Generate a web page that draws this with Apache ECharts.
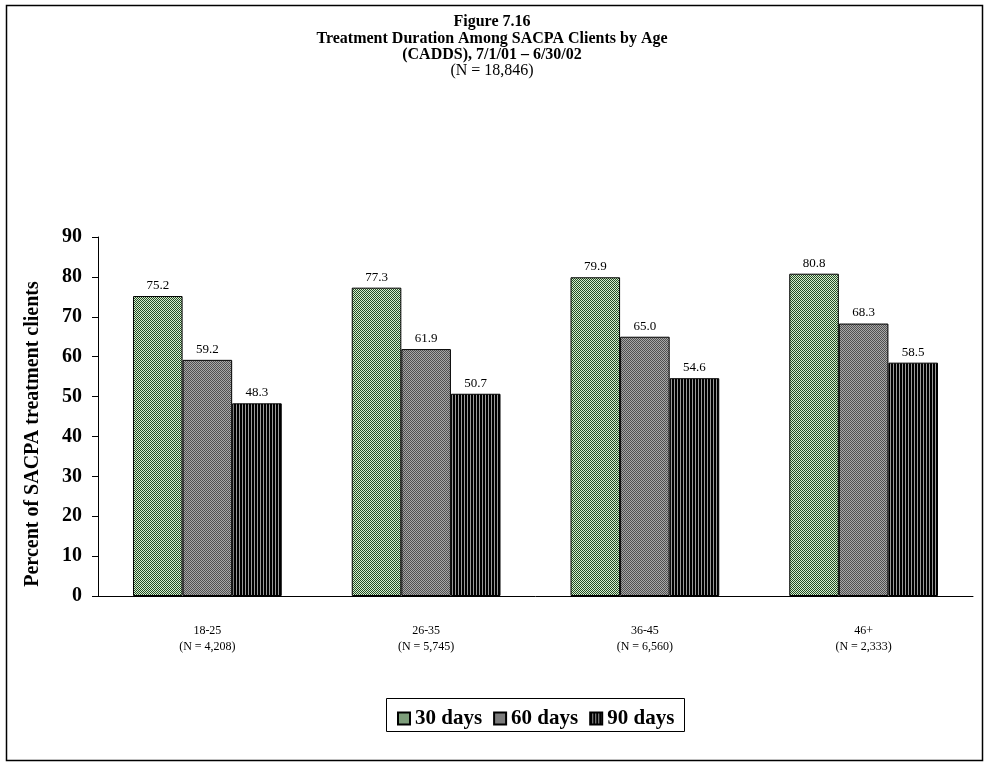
<!DOCTYPE html>
<html><head><meta charset="utf-8">
<script src="https://cdn.jsdelivr.net/npm/echarts@6/dist/echarts.min.js"></script>
<style>html,body{margin:0;padding:0;background:#fff}#c{width:989px;height:766px}</style>
</head><body><div id="c"></div>
<script>
const categories = ['18-25\n(N = 4,208)', '26-35\n(N = 5,745)', '36-45\n(N = 6,560)', '46+\n(N = 2,333)'];
const seriesNames = ['30 days', '60 days', '90 days'];
const days30 = [75.2, 77.3, 79.9, 80.8];
const days60 = [59.2, 61.9, 65.0, 68.3];
const days90 = [48.3, 50.7, 54.6, 58.5];
const yTicks = [0, 10, 20, 30, 40, 50, 60, 70, 80, 90];

function pattern(kind) {
  const c = document.createElement('canvas');
  c.width = 4; c.height = 4;
  const g = c.getContext('2d');
  if (kind === 0) {
    g.fillStyle = '#d6f0cf'; g.fillRect(0,0,4,4);
    g.fillStyle = '#254a25';
    for (let y=0;y<4;y++) for (let x=0;x<4;x++) if ((x+y)%2===0) g.fillRect(x,y,1,1);
  } else if (kind === 1) {
    g.fillStyle = '#a8a8a8'; g.fillRect(0,0,4,4);
    g.fillStyle = '#505050';
    for (let y=0;y<4;y++) for (let x=0;x<4;x++) if ((x+y)%2===0) g.fillRect(x,y,1,1);
  } else {
    c.width = 3; c.height = 3;
    g.fillStyle = '#000'; g.fillRect(0,0,3,3);
    g.fillStyle = '#9a9a9a'; g.fillRect(2,0,1,3);
  }
  return {image: c, repeat: 'repeat'};
}

const font = 'Liberation Serif';
const chart = echarts.init(document.getElementById('c'), null, {renderer: 'canvas'});
const dataSets = [days30, days60, days90];
chart.setOption({
  animation: false,
  textStyle: {fontFamily: font, color: '#000'},
  graphic: [
    {type: 'rect', shape: {x: 6.5, y: 5.5, width: 976, height: 755}, style: {fill: 'none', stroke: '#000', lineWidth: 1.5}, z: -1},
    {type: 'text', x: 492, y: 14, style: {text: 'Figure 7.16\nTreatment Duration Among SACPA Clients by Age\n(CADDS), 7/1/01 – 6/30/02', font: 'bold 16px "Liberation Serif"', fill: '#000', align: 'center', verticalAlign: 'top', lineHeight: 16.5}},
    {type: 'text', x: 492, y: 63, style: {text: '(N = 18,846)', font: '16px "Liberation Serif"', fill: '#000', align: 'center', verticalAlign: 'top'}},
    {type: 'text', x: 33, y: 434, rotation: Math.PI / 2, style: {text: 'Percent of SACPA treatment clients', font: 'bold 20px "Liberation Serif"', fill: '#000', align: 'center', verticalAlign: 'middle'}},
    {type: 'rect', shape: {x: 386.5, y: 698.5, width: 298, height: 33}, style: {fill: 'none', stroke: '#000', lineWidth: 1}}
  ],
  legend: {
    left: 392, top: 703,
    icon: 'rect',
    itemWidth: 12, itemHeight: 12, itemGap: 11,
    textStyle: {fontFamily: font, fontWeight: 'bold', fontSize: 21, color: '#000'},
    data: seriesNames
  },
  grid: {left: 98, right: 16, top: 237, bottom: 170, containLabel: false},
  xAxis: {
    type: 'category', data: categories,
    axisLine: {lineStyle: {color: '#000', width: 1}},
    axisTick: {show: false},
    axisLabel: {fontFamily: font, fontSize: 12, color: '#000', margin: 27, lineHeight: 16}
  },
  yAxis: {
    type: 'value', min: yTicks[0], max: yTicks[yTicks.length-1], interval: 10,
    axisLine: {show: true, lineStyle: {color: '#000'}},
    axisTick: {show: true, length: 6, lineStyle: {color: '#000'}},
    splitLine: {show: false},
    axisLabel: {fontFamily: font, fontWeight: 'bold', fontSize: 20, color: '#000', margin: 16}
  },
  series: seriesNames.map((n, i) => ({
    name: n, type: 'bar', data: dataSets[i],
    barGap: '0%', barCategoryGap: '32%',
    itemStyle: {color: pattern(i), borderColor: '#000', borderWidth: 1},
    label: {show: true, position: 'top', distance: 4, fontFamily: font, fontSize: 13, color: '#000',
      formatter: p => p.value.toFixed(1)}
  }))
});
</script></body></html>
